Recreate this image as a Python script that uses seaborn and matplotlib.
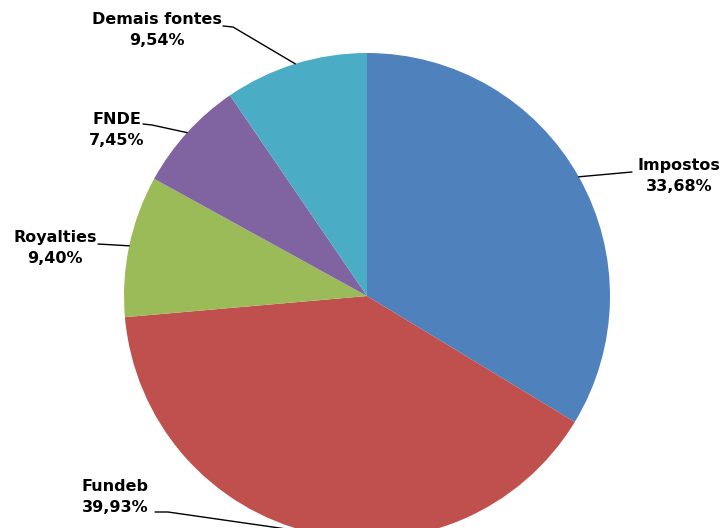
import numpy as np
import matplotlib.pyplot as plt
import seaborn as sns

# dados
fontes = ["Impostos", "Fundeb", "Royalties", "FNDE", "Demais fontes"]
percentuais = [33.68, 39.93, 9.40, 7.45, 9.54]
cores = ["#4F81BD", "#C0504D", "#9BBB59", "#8064A2", "#4BACC6"]

sns.set_theme(style="white")
plt.rcParams['font.family'] = ['DejaVu Sans']

W, H = 723, 528
fig = plt.figure(figsize=(7.23, 5.28), dpi=100)
ax = fig.add_axes([0, 0, 1, 1])

# centro e raio em pixels (y para cima)
cx, cy, r = 367, H - 296, 243
wedges, _ = ax.pie(percentuais, colors=cores, startangle=90, counterclock=False,
                   center=(cx, cy), radius=r, frame=True,
                   wedgeprops=dict(linewidth=0))
ax.set_xlim(0, W)
ax.set_ylim(0, H)
ax.set_aspect('equal')
ax.axis('off')

# posição dos rótulos (pixels da imagem) e cotovelo da linha guia
layout = {
    "Impostos": ((679, 176), [(632, 172)]),
    "Fundeb": ((115, 497), [(155, 512), (168, 512)]),
    "Royalties": ((55, 248), [(98, 244)]),
    "FNDE": ((117, 130), [(143, 124), (152, 125)]),
    "Demais fontes": ((157, 30), [(223, 26), (233, 27)]),
}

for w, nome, p in zip(wedges, fontes, percentuais):
    ang = np.deg2rad((w.theta1 + w.theta2) / 2)
    mx, my = cx + r * np.cos(ang), cy + r * np.sin(ang)
    (tx, ty), pts = layout[nome]
    xs = [x for x, _ in pts] + [mx]
    ys = [H - y for _, y in pts] + [my]
    ax.plot(xs, ys, color="black", linewidth=1.0, clip_on=True)
    rotulo = f"{nome}\n{p:.2f}%".replace(".", ",")
    ax.text(tx, H - ty, rotulo, ha="center", va="center", fontsize=11.5,
            fontweight="bold", color="black", linespacing=1.45)

fig.savefig("out.png", dpi=100, facecolor="white")
